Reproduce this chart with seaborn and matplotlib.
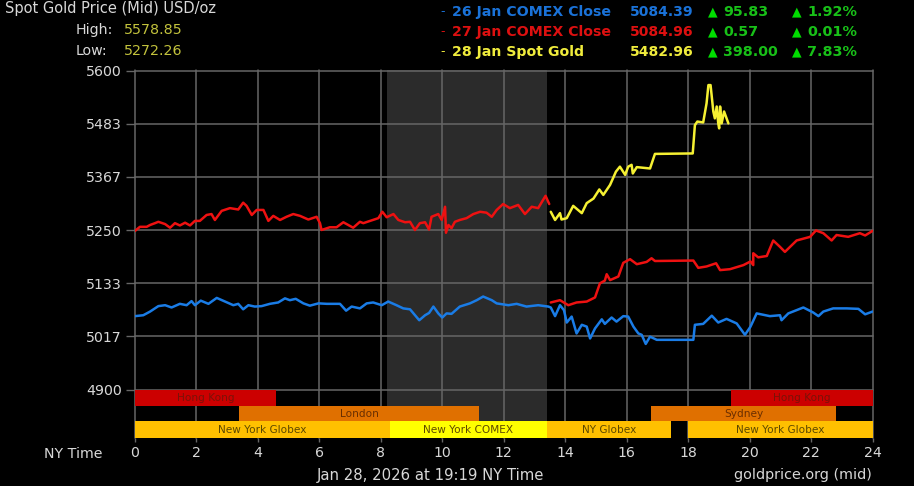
import pandas as pd
import matplotlib
matplotlib.use('Agg')
import matplotlib.pyplot as plt
import seaborn as sns

# 26 Jan COMEX close line
blue_hours = [0, .27, .49, .76, .98, 1.19, 1.46, 1.68, 1.84, 1.95, 2.14, 2.39, 2.66, 2.93, 3.20, 3.36, 3.52, 3.69,
              3.90, 4.12, 4.39, 4.66, 4.88, 5.04, 5.23, 5.48, 5.69, 5.97, 6.24, 6.67, 6.87, 7.05, 7.32, 7.54, 7.75,
              8.03, 8.24, 8.51, 8.73, 8.95, 9.25, 9.44, 9.57, 9.71, 9.87, 10.0, 10.14, 10.30, 10.57, 10.90, 11.12,
              11.33, 11.61, 11.77, 12.15, 12.42, 12.74, 13.12, 13.45, 13.53, 13.67, 13.83, 13.96, 14.05, 14.21,
              14.37, 14.54, 14.70, 14.81, 14.97, 15.19, 15.29, 15.51, 15.67, 15.89, 16.05, 16.22, 16.38, 16.49,
              16.62, 16.76, 16.98, 18.17, 18.22, 18.49, 18.77, 18.98, 19.25, 19.58, 19.85, 20.03, 20.23, 20.66,
              20.99, 21.04, 21.26, 21.75, 22.07, 22.24, 22.40, 22.72, 23.16, 23.54, 23.76, 24.0]
blue_prices = [5061, 5063, 5071, 5083, 5085, 5080, 5088, 5085, 5094, 5085, 5095, 5088, 5101, 5093, 5085, 5088, 5076, 5085,
               5082, 5083, 5088, 5091, 5100, 5096, 5099, 5089, 5084, 5089, 5088, 5088, 5073, 5082, 5078, 5089, 5091,
               5085, 5093, 5085, 5078, 5076, 5052, 5063, 5068, 5082, 5067, 5058, 5067, 5066, 5082, 5089, 5096,
               5104, 5096, 5089, 5085, 5088, 5082, 5085, 5082, 5080, 5061, 5085, 5074, 5047, 5060,
               5023, 5042, 5038, 5012, 5034, 5054, 5044, 5058, 5049, 5061, 5060, 5038, 5023, 5020,
               5000, 5016, 5009, 5009, 5042, 5044, 5062, 5047, 5055, 5045, 5020, 5038, 5067, 5061,
               5063, 5052, 5067, 5080, 5069, 5061, 5071, 5078, 5078, 5077, 5065, 5071]

# 27 Jan COMEX close line, broken at 13.5
red_hours_a = [0, .16, .38, .49, .65, .76, .98, 1.14, 1.30, 1.46, 1.63, 1.79, 1.95, 2.11, 2.33, 2.49, 2.60, 2.82, 3.09,
               3.36, 3.52, 3.63, 3.80, 3.96, 4.18, 4.34, 4.50, 4.72, 4.93, 5.15, 5.37, 5.64, 5.91, 6.02, 6.07, 6.34,
               6.56, 6.78, 7.10, 7.32, 7.43, 7.65, 7.92, 8.05, 8.19, 8.41, 8.57, 8.79, 8.95, 9.11, 9.27, 9.44, 9.57,
               9.65, 9.87, 9.98, 10.09, 10.12, 10.20, 10.30, 10.41, 10.57, 10.79, 11.01, 11.23, 11.44, 11.61, 11.77,
               11.98, 12.20, 12.47, 12.69, 12.91, 13.12, 13.36, 13.48]
red_prices_a = [5248, 5257, 5257, 5261, 5265, 5268, 5263, 5255, 5265, 5260, 5266, 5260, 5270, 5270, 5283, 5285, 5272, 5292, 5298,
                5295, 5310, 5303, 5283, 5294, 5294, 5270, 5281, 5272, 5279, 5285, 5281, 5273, 5279, 5265, 5250, 5256,
                5256, 5267, 5255, 5268, 5265, 5270, 5276, 5290, 5278, 5285, 5272, 5267, 5268, 5250, 5265, 5267, 5251,
                5279, 5285, 5272, 5301, 5244, 5261, 5254, 5268, 5272, 5276, 5285, 5290, 5288, 5279, 5294,
                5307, 5298, 5305, 5285, 5301, 5298, 5325, 5307]
red_hours_b = [13.53, 13.83, 14.10, 14.37, 14.70, 14.97, 15.13, 15.29, 15.35, 15.46, 15.73, 15.89, 16.11, 16.33, 16.65,
               16.81, 16.92, 18.17, 18.33, 18.60, 18.91, 19.04, 19.36, 19.80, 20.03, 20.12, 20.12, 20.28, 20.56, 20.77,
               20.99, 21.15, 21.53, 21.97, 22.16, 22.40, 22.67, 22.83, 23.21, 23.59, 23.76, 24.0]
red_prices_b = [5091, 5096, 5085, 5091, 5093, 5102, 5133, 5139, 5153, 5140, 5148, 5178, 5186, 5175, 5180,
                5188, 5182, 5183, 5167, 5170, 5177, 5162, 5164, 5173, 5181, 5173, 5199, 5190, 5193, 5227,
                5213, 5202, 5227, 5235, 5249, 5243, 5227, 5239, 5235, 5243, 5238, 5248]

# 28 Jan spot gold
yellow_hours = [13.53, 13.67, 13.83, 13.88, 14.05, 14.26, 14.54, 14.70, 14.92, 15.11, 15.24, 15.46, 15.65, 15.78, 15.95,
                16.05, 16.16, 16.20, 16.33, 16.76, 16.92, 18.15, 18.22, 18.30, 18.49, 18.60, 18.66, 18.73, 18.82, 18.87,
                18.93, 18.98, 19.01, 19.04, 19.09, 19.17, 19.31]
yellow_prices = [5290, 5272, 5287, 5273, 5276, 5303, 5287, 5309, 5319, 5339, 5327, 5349, 5378, 5389, 5371,
                 5389, 5393, 5374, 5388, 5385, 5417, 5418, 5480, 5488, 5486, 5528, 5568, 5568, 5510, 5495,
                 5521, 5484, 5473, 5521, 5484, 5510, 5484]

y_ticks = [5600, 5483.33, 5366.67, 5250, 5133.33, 5016.67, 4900]
y_labels = ['5600', '5483', '5367', '5250', '5133', '5017', '4900']
x_ticks = list(range(0, 25, 2))

# session bands: name, start, end, row
session_names = ['Hong Kong', 'Hong Kong', 'London', 'Sydney', 'New York Globex', 'New York COMEX', 'NY Globex', 'New York Globex']
session_start = [0, 19.4, 3.4, 16.8, 0, 8.3, 13.4, 18]
session_end = [4.6, 24, 11.2, 22.8, 8.3, 13.4, 17.45, 24]
session_row = [0, 0, 1, 1, 2, 2, 2, 2]
session_fill = ['#cc0000', '#cc0000', '#e07000', '#e07000', '#ffc000', '#ffff00', '#ffc000', '#ffc000']
session_ink = ['#7a1208', '#7a1208', '#6a2e00', '#6a2e00', '#5c4800', '#5c4800', '#5c4800', '#5c4800']

W, H = 914, 486
sns.set_style('dark')
plt.rcParams['font.family'] = ['DejaVu Sans']

fig = plt.figure(figsize=(W / 100, H / 100), dpi=100, facecolor='black')
ax = fig.add_axes([135 / W, 1 - 438 / H, (872.5 - 135) / W, (438 - 70.5) / H], facecolor='black')

ax.axvspan(8.2, 13.4, color='#2b2b2b', lw=0, zorder=0)

for hrs, vals, col in [(blue_hours, blue_prices, '#1a7ce6'),
                       (red_hours_a, red_prices_a, '#ee1111'),
                       (red_hours_b, red_prices_b, '#ee1111'),
                       (yellow_hours, yellow_prices, '#f5f032')]:
    df = pd.DataFrame({'hour': hrs, 'price': vals})
    sns.lineplot(data=df, x='hour', y='price', ax=ax, color=col, linewidth=1.8,
                 estimator=None, sort=False, zorder=4)

ax.set_xlim(0, 24)
ax.set_ylim(4793.6, 5600)
ax.set_xlabel('')
ax.set_ylabel('')
ax.set_xticks(x_ticks)
ax.set_yticks(y_ticks)
ax.set_yticklabels(y_labels)
ax.grid(True, color='#666666', linewidth=1.1, zorder=1)
ax.set_axisbelow(True)
for gl in ax.get_xgridlines() + ax.get_ygridlines():
    gl.set_clip_on(False)
ax.tick_params(axis='y', colors='#d8d8d8', labelsize=10.2, length=6.5, width=1, color='#666666', pad=3, left=True)
ax.tick_params(axis='x', colors='#d8d8d8', labelsize=10.2, length=3, width=1, color='#666666', pad=3, bottom=True)
for s in ax.spines.values():
    s.set_visible(False)

# session rows in price units so they sit under the 4900 line
row_top = [4900, 4863.8, 4830.9]
row_bottom = [4863.8, 4830.9, 4793.6]
for name, a, b, r, fc, ink in zip(session_names, session_start, session_end, session_row, session_fill, session_ink):
    ax.barh((row_top[r] + row_bottom[r]) / 2, b - a, left=a, height=row_top[r] - row_bottom[r],
            color=fc, linewidth=0, zorder=2)
    ax.text((a + b) / 2, (row_top[r] + row_bottom[r]) / 2 - 1, name, color=ink, fontsize=7.6,
            ha='center', va='center', zorder=3)


def label(x, y, s, color='#d8d8d8', size=10.2, ha='left', weight='normal'):
    fig.text(x / W, 1 - y / H, s, color=color, fontsize=size, ha=ha, va='center', fontweight=weight)


label(5, 9, 'Spot Gold Price (Mid) USD/oz', size=10.5)
label(76, 30, 'High:')
label(76, 51, 'Low:')
label(124, 30, '5578.85', color='#c2c23c', size=10.3)
label(124, 51, '5272.26', color='#c2c23c', size=10.3)

rows = [('26 Jan COMEX Close', '5084.39', '95.83', '1.92%', '#1a72d8', 12),
        ('27 Jan COMEX Close', '5084.96', '0.57', '0.01%', '#dd1010', 32),
        ('28 Jan Spot Gold', '5482.96', '398.00', '7.83%', '#f0ec3c', 52)]
for name, price, delta, pct, col, y in rows:
    label(440, y, '-', color=col, size=9)
    label(452, y, name, color=col, size=10.15, weight='bold')
    label(630, y, price, color=col, size=10.1, weight='bold')
    label(708, y, '▲', color='#00dd00', size=9)
    label(723, y, delta, color='#18c018', size=10.3, weight='bold')
    label(792, y, '▲', color='#00dd00', size=9)
    label(807, y, pct, color='#18c018', size=10.4, weight='bold')

label(44, 454, 'NY Time')
label(317, 475, 'Jan 28, 2026 at 19:19 NY Time', size=10.7)
label(734, 475, 'goldprice.org (mid)', size=10.4)

fig.savefig('out.png', dpi=100, facecolor='black')
